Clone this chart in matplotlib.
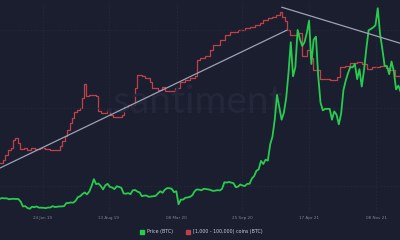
import matplotlib
matplotlib.use("Agg")
import matplotlib.pyplot as plt
from matplotlib.lines import Line2D
import pandas as pd

# ---------------- data ----------------
price_start = "2018-09-15"   # weekly samples
price_btc = [
    # 2018
    6500, 6700, 6600, 6600, 6300, 6450, 6450, 6400, 6400, 5600, 4000, 4100, 3500, 3250, 3900, 3750,
    # 2019
    4000, 3600, 3600, 3550, 3450, 3650, 3650, 4100, 3800, 3900, 4000, 4000, 4100,
    5100, 5100, 5300, 5200, 5800, 7000, 7300, 8000, 8500, 7900, 8800, 10600, 12800,
    11200, 11400, 10600, 9500, 10800, 11300, 10300, 10100, 9600, 10500, 10300, 10000,
    8200, 8100, 8300, 7950, 9200, 9300, 8800, 8500, 7300, 7500, 7500, 7100, 7200, 7300,
    # 2020
    7400, 8200, 8900, 8400, 9400, 9900, 9900, 9700, 8600, 8900, 4700, 6200, 6200,
    6800, 6900, 7100, 7600, 8900, 9500, 9400, 9200, 9700, 9600, 9500, 9300, 9000,
    9100, 9250, 9150, 9700, 11800, 11700, 11900, 11700, 11500, 10200, 10400, 11100, 10700,
    10600, 11300, 11300, 13000, 13800, 15500, 16000, 18700, 17700, 19100, 18800, 24000, 26500,
    # 2021
    32000, 40000, 36000, 32000, 34300, 39000, 47000, 57000, 46000, 49000, 61000, 58000, 55800,
    57000, 60000, 64000, 50000, 57800, 58800, 46000, 37500, 35000, 35500, 35500, 35500, 32000,
    34700, 33600, 30500, 34000, 41500, 44600, 47000, 49000, 48900, 50000, 45100, 48300, 42700,
    48000, 54900, 60900, 61300, 61800, 62500, 68000, 59700, 54800, 49400, 49300, 46700, 50800,
    # 2022
    47700, 41800, 43000, 41000,
]

holder_dates = [
    "2018-09-15", "2018-09-24", "2018-09-30", "2018-10-09", "2018-10-19", "2018-10-25",
    "2018-10-31", "2018-11-09", "2018-11-15", "2018-11-27", "2018-12-07", "2018-12-19",
    "2018-12-31", "2019-01-15", "2019-01-31", "2019-02-15", "2019-03-05", "2019-03-17",
    "2019-03-24", "2019-04-02", "2019-04-08", "2019-04-17", "2019-04-23", "2019-04-29",
    "2019-05-08", "2019-05-18", "2019-05-24", "2019-05-30", "2019-06-05", "2019-06-14",
    "2019-07-05", "2019-07-12", "2019-07-21", "2019-08-02", "2019-08-08", "2019-08-17",
    "2019-08-26", "2019-09-17", "2019-09-23", "2019-09-29", "2019-10-11", "2019-10-27",
    "2019-11-02", "2019-11-08", "2019-11-23", "2019-12-02", "2019-12-18", "2019-12-24",
    "2020-01-11", "2020-01-23", "2020-02-01", "2020-02-17", "2020-03-03", "2020-03-18",
    "2020-04-03", "2020-04-18", "2020-05-03", "2020-05-09", "2020-05-18", "2020-06-03",
    "2020-06-18", "2020-06-27", "2020-07-19", "2020-08-03", "2020-08-18", "2020-09-12",
    "2020-10-03", "2020-10-18", "2020-11-03", "2020-11-18", "2020-11-27", "2020-12-12",
    "2020-12-25", "2021-01-06", "2021-01-18", "2021-01-24", "2021-02-02", "2021-02-08",
    "2021-02-18", "2021-03-11", "2021-03-26", "2021-04-10", "2021-04-20", "2021-04-29",
    "2021-05-20", "2021-06-20", "2021-07-11", "2021-07-20", "2021-08-05", "2021-08-20",
    "2021-09-10", "2021-09-26", "2021-10-11", "2021-10-26", "2021-11-20", "2021-12-08",
    "2021-12-20", "2022-01-05", "2022-01-20",
]
holder_count = [
    2139, 2142, 2147, 2152, 2154, 2162, 2164, 2159, 2153, 2154, 2152, 2154,
    2153, 2154, 2153, 2152, 2152, 2156, 2161, 2166, 2172, 2179, 2184, 2190,
    2192, 2194, 2204, 2218, 2206, 2207, 2206, 2191, 2189, 2189, 2192, 2187,
    2185, 2185, 2187, 2195, 2197, 2197, 2214, 2227, 2226, 2224, 2220, 2214,
    2212, 2215, 2211, 2211, 2214, 2220, 2222, 2224, 2226, 2242, 2244, 2246,
    2252, 2257, 2262, 2267, 2270, 2272, 2274, 2275, 2277, 2279, 2282, 2284,
    2285, 2287, 2290, 2285, 2281, 2272, 2267, 2269, 2246, 2252, 2244, 2232,
    2223, 2222, 2225, 2235, 2236, 2239, 2240, 2238, 2233, 2235, 2236, 2234,
    2232, 2226, 2227,
]

trend_a_dates = ["2018-09-15", "2021-02-08"]
trend_a_price = [16400, 60900]
trend_b_dates = ["2021-01-24", "2022-01-20"]
trend_b_price = [68300, 56700]

tick_dates = ["2019-01-24", "2019-08-13", "2020-03-08", "2020-09-25", "2021-04-17", "2021-11-08"]
tick_labels = ["24 Jan 19", "13 Aug 19", "08 Mar 20", "25 Sep 20", "17 Apr 21", "08 Nov 21"]
legend_labels = ["Price (BTC)", "[1,000 - 100,000) coins (BTC)"]

# ---------------- style ----------------
BG = "#1b1e2e"
GREEN = "#27cc4f"
RED = "#c0404a"
TREND = "#9ea2b8"
GRID = "#252939"
TXT = "#7f8397"

price_dates = pd.date_range(price_start, periods=len(price_btc), freq="7D")
h_dates = pd.to_datetime(holder_dates)

fig = plt.figure(figsize=(4, 2.4), dpi=100, facecolor=BG)
ax = fig.add_axes([0, 28 / 240, 1, 210 / 240])
ax.set_facecolor(BG)
ax2 = ax.twinx()

xmin, xmax = pd.Timestamp("2018-09-15"), pd.Timestamp("2022-01-20")

# watermark
fig.text(105 / 400, 1 - 113 / 240, ".santiment", fontsize=28, family="Lato",
         color="#232739", va="baseline", ha="left", zorder=0)

ax2.step(h_dates, holder_count, where="post", color=RED, lw=0.9, zorder=2)
ax2.set_ylim(2090, 2300)

ax.plot(price_dates, price_btc, color=GREEN, lw=1.3, zorder=3)
ax.set_ylim(2200, 70000)

ax.set_zorder(ax2.get_zorder() + 1)
ax.patch.set_visible(False)
ax2.patch.set_visible(False)

ax.plot(pd.to_datetime(trend_a_dates), trend_a_price, color=TREND, lw=0.9, zorder=4)
ax.plot(pd.to_datetime(trend_b_dates), trend_b_price, color=TREND, lw=0.9, zorder=4)

ax.set_xlim(xmin, xmax)
ax.set_xticks(pd.to_datetime(tick_dates))
ax.set_xticklabels(tick_labels)
ax.tick_params(axis="x", length=0, labelsize=3, colors=TXT, pad=3)
ax.set_yticks([10600, 35800, 61000])
ax.tick_params(axis="y", length=0, labelleft=False)
ax2.set_yticks([])
ax.grid(True, color=GRID, lw=0.6, ls=(0, (2, 2)))
fig.patch.set_facecolor(BG)
for a in (ax, ax2):
    for s in a.spines.values():
        s.set_visible(False)

handles = [Line2D([], [], marker="s", ls="", color=GREEN, markersize=2.5),
           Line2D([], [], marker="s", ls="", color=RED, markersize=2.5)]
leg = fig.legend(handles, legend_labels, loc="center", bbox_to_anchor=(0.5, 8 / 240),
                 ncol=2, frameon=False, fontsize=3.4, handletextpad=0.1,
                 columnspacing=2.0, handlelength=2.0, labelcolor="#c9ccd8")

fig.savefig("out.png", dpi=100, facecolor=BG)
